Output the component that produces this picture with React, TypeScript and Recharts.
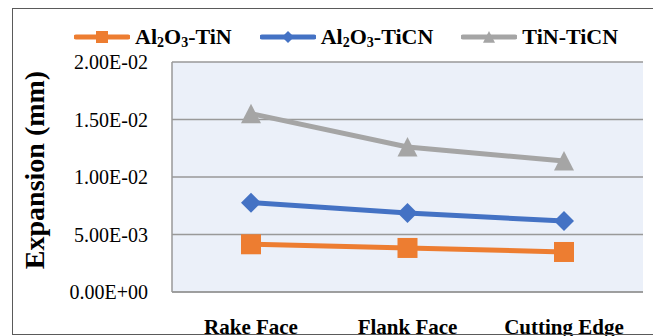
import React from "react";
import {
  LineChart,
  Line,
  XAxis,
  YAxis,
  CartesianGrid,
  Legend,
} from "recharts";

const categories = ["Rake Face", "Flank Face", "Cutting Edge"];
const al2o3TiN = [0.00415, 0.00383, 0.00348];
const al2o3TiCN = [0.00777, 0.00687, 0.00617];
const tinTiCN = [0.01551, 0.01261, 0.01139];
const yTicks = [0, 0.005, 0.01, 0.015, 0.02];

const seriesInfo = [
  { key: "a", base: "Al", sub1: "2", mid: "O", sub2: "3", tail: "-TiN", color: "#ED7D31", shape: "square" },
  { key: "b", base: "Al", sub1: "2", mid: "O", sub2: "3", tail: "-TiCN", color: "#4472C4", shape: "diamond" },
  { key: "c", base: "TiN-TiCN", sub1: "", mid: "", sub2: "", tail: "", color: "#A5A5A5", shape: "triangle" },
];

const data = categories.map((c, i) => ({
  name: c,
  a: al2o3TiN[i],
  b: al2o3TiCN[i],
  c: tinTiCN[i],
}));

const fmt = (v: number) => {
  const [m, e] = v.toExponential(2).split("e");
  const n = parseInt(e, 10);
  const sign = n < 0 ? "-" : "+";
  return `${m}E${sign}${String(Math.abs(n)).padStart(2, "0")}`;
};

const FONT = '"Liberation Serif", "Times New Roman", serif';

function Marker({ cx, cy, shape, color, s }: any) {
  if (cx == null || cy == null) return null;
  const h = s / 2;
  if (shape === "square")
    return <rect x={cx - h} y={cy - h} width={s} height={s} fill={color} />;
  if (shape === "diamond")
    return (
      <polygon
        points={`${cx},${cy - h} ${cx + h},${cy} ${cx},${cy + h} ${cx - h},${cy}`}
        fill={color}
      />
    );
  return (
    <polygon
      points={`${cx},${cy - h} ${cx + h},${cy + h * 0.95} ${cx - h},${cy + h * 0.95}`}
      fill={color}
    />
  );
}

const subStyle: React.CSSProperties = { fontSize: 14, verticalAlign: -3, lineHeight: 0 };

const LegendContent = () => (
  <div
    style={{
      display: "flex",
      alignItems: "center",
      fontFamily: FONT,
      fontWeight: "bold",
      fontSize: 22,
      lineHeight: "24px",
      color: "#000",
      whiteSpace: "nowrap",
    }}
  >
    {seriesInfo.map((s, i) => (
      <div key={s.key} style={{ display: "flex", alignItems: "center", marginRight: i < 2 ? 28 : 0 }}>
        <svg width={56} height={14} style={{ marginRight: 5 }}>
          <line x1={2} y1={7} x2={54} y2={7} stroke={s.color} strokeWidth={5} strokeLinecap="round" />
          <Marker cx={28} cy={7} shape={s.shape} color={s.color} s={12} />
        </svg>
        <span>
          {s.base}
          {s.sub1 && <sub style={subStyle}>{s.sub1}</sub>}
          {s.mid}
          {s.sub2 && <sub style={subStyle}>{s.sub2}</sub>}
          {s.tail}
        </span>
      </div>
    ))}
  </div>
);

export default function App() {
  return (
    <div style={{ position: "absolute", left: 0, top: 0, width: 653, height: 336, overflow: "hidden", background: "#fff" }}>
      <LineChart
        width={653}
        height={336}
        data={data}
        margin={{ top: 62, right: 10, bottom: 0, left: 0 }}
      >
        <CartesianGrid vertical={false} stroke="#999999" strokeWidth={1.5} fill="#EBF0F9" fillOpacity={1} />
        <XAxis
          dataKey="name"
          height={44}
          padding={{ left: 79, right: 79 }}
          tickLine={false}
          tickSize={0}
          tickMargin={27}
          axisLine={{ stroke: "#999999", strokeWidth: 1.5 }}
          tick={{ fill: "#000", fontFamily: FONT, fontWeight: "bold", fontSize: 21 }}
          interval={0}
        />
        <YAxis
          width={172}
          domain={[0, 0.02]}
          ticks={yTicks}
          tickFormatter={fmt}
          tickLine={false}
          tickSize={0}
          tickMargin={24}
          axisLine={{ stroke: "#999999", strokeWidth: 1.5 }}
          tick={{ fill: "#000", fontFamily: FONT, fontSize: 20 }}
          label={{
            content: () => (
              <text
                x={0}
                y={0}
                transform="translate(44,170) rotate(-90)"
                textAnchor="middle"
                fontFamily={FONT}
                fontWeight="bold"
                fontSize={28}
                fill="#000"
              >
                Expansion (mm)
              </text>
            ),
          }}
        />
        <Legend
          layout="horizontal"
          verticalAlign="middle"
          align="center"
          content={<LegendContent />}
          wrapperStyle={{ position: "absolute", top: 25, left: 74, width: "auto" }}
        />
        {seriesInfo.map((s) => (
          <Line
            key={s.key}
            dataKey={s.key}
            stroke={s.color}
            strokeWidth={5}
            isAnimationActive={false}
            dot={(p: any) => <Marker key={`${s.key}-${p.index}`} cx={p.cx} cy={p.cy} shape={s.shape} color={s.color} s={20} />}
            activeDot={false}
          />
        ))}
      </LineChart>
      <div
        style={{
          position: "absolute",
          left: 12,
          top: 8,
          width: 700,
          height: 327,
          border: "1.5px solid #5a5a5a",
          boxSizing: "border-box",
          pointerEvents: "none",
        }}
      />
    </div>
  );
}
